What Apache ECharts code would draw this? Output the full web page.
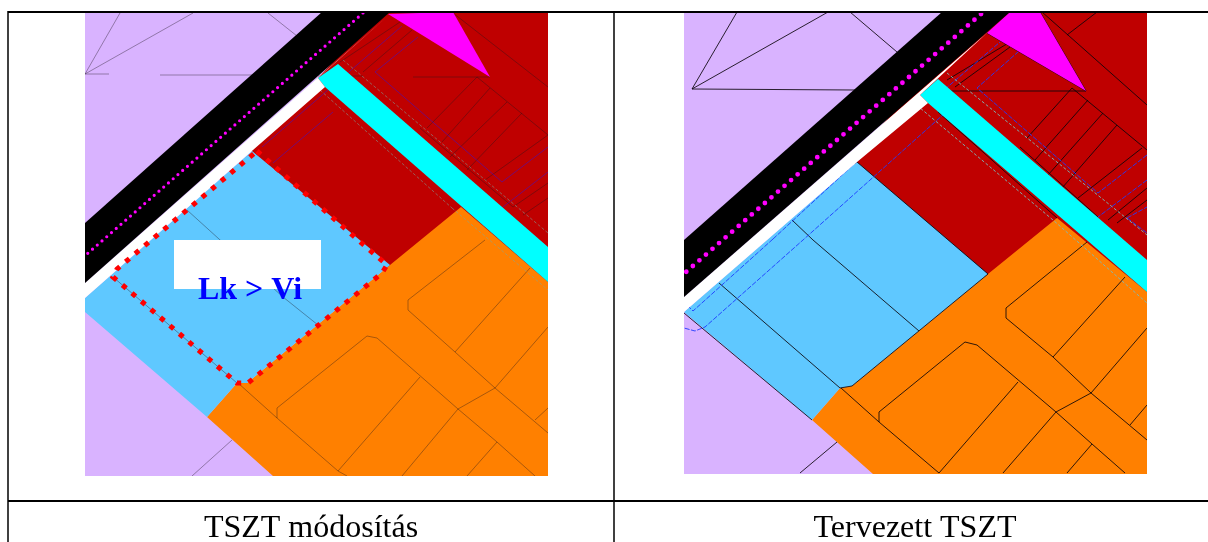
<!DOCTYPE html>
<html><head><meta charset="utf-8">
<style>html,body{margin:0;padding:0;background:#fff}#c{width:1208px;height:542px}</style>
<script src="https://cdn.jsdelivr.net/npm/echarts@6/dist/echarts.min.js"></script>
</head><body><div id="c"></div>
<script>
// ---- captions and labels
const captionLeft = "TSZT módosítás";
const captionRight = "Tervezett TSZT";
const mapLabel = "Lk > Vi";
// ---- table frame
const tableRows = [[[8,12],[1208,12]],[[8,501],[1208,501]]];
const tableCols = [[[8,11],[8,542]],[[614,11],[614,542]]];
const labelBox = [[[174,240],[321,240],[321,289],[174,289]]];

// ---- left map regions
const L_lilac = [[[85,12],[548,12],[548,476],[85,476]]];
const L_red = [[[380,12],[548,12],[548,300],[390,270],[250,150]]];
const L_orange = [[[461,207],[548,282],[548,476],[273,476],[207,417],[237,383],[247,383],[390,265]]];
const L_blue = [[[85,298],[252,151],[390,265],[247,383],[237,383],[207,417],[85,312]]];
const L_cyan = [[[338,64],[548,247],[548,282],[325,87],[318,78]]];
const L_magenta = [[[388,14],[453,12],[490,77]]];
const L_white = [[[389,15],[85,283],[85,298],[253,150],[325,87],[318,78]]];
const L_black = [[[322,12],[390,12],[85,283],[85,223]]];
const L_dots = [[[363,13],[87,254]]];
const L_outline = [[[257,151],[358,240],[387,265],[382,273],[248,383],[237,383],[113,277],[117,269],[257,151]]];
const L_thin = [
 [[85,74],[120,13]],[[85,74],[193,13]],[[268,13],[297,36]],[[85,74],[109,74]],[[160,75],[252,75]],
 [[232,440],[192,476]],[[187,210],[283,297],[318,325]],[[113,277],[237,383]],
 [[318,76],[363,76]],[[413,77],[490,77]],
 [[485,240],[408,300],[408,310],[455,352],[495,388],[548,433]],
 [[530,268],[455,352]],[[548,327],[495,388]],[[495,388],[458,409]],
 [[238,383],[277,418],[338,471],[347,476]],
 [[277,418],[277,408],[367,336],[377,338],[458,409],[497,442],[535,476]],
 [[420,377],[338,471]],[[458,409],[402,476]],[[497,442],[467,476]],[[548,408],[535,420]],
 [[453,13],[548,87]],[[477,77],[548,135]],[[363,72],[412,30]],[[340,62],[400,22]],
 [[477,77],[427,128]],[[490,88],[442,142]],[[507,102],[450,157]],[[522,113],[467,170]],[[548,135],[485,180]],
 [[420,128],[513,207]],[[513,207],[548,183]],[[523,215],[548,198]]
];
const L_blueThin = [
 [[262,147],[402,26]],[[273,163],[333,112]],[[375,72],[418,37]],[[375,72],[502,182],[548,147]],[[503,207],[548,172]]
];
const L_teal = [[[343,60],[548,233]],[[320,90],[452,208]],[[452,208],[548,290]]];

// ---- right map regions
const R_lilac = [[[684,12],[1147,12],[1147,474],[684,474]]];
const R_red = [[[985,12],[1147,12],[1147,300],[988,280],[850,160]]];
const R_orange = [[[1057,218],[1147,292],[1147,474],[873,474],[812,420],[840,388],[852,386],[988,274]]];
const R_blue = [[[684,312],[857,162],[988,274],[852,386],[840,388],[812,420]]];
const R_cyan = [[[938,79],[1147,260],[1147,292],[928,103],[920,95]]];
const R_magenta = [[[987,33],[1010,12],[1040,12],[1086,91]]];
const R_white = [[[988,32],[684,297],[684,312],[857,162],[928,103],[920,95]]];
const R_black = [[[942,12],[1010,12],[684,297],[684,240]]];
const R_dots = [[[981,14],[686,272]]];
const R_thick = [
 [[692,89],[737,12]],[[692,89],[828,12]],[[850,12],[897,52]],[[692,89],[855,90]],[[922,91],[1086,91]],
 [[837,442],[800,473]],[[792,220],[813,240],[919,331]],[[719,283],[840,388]],[[684,313],[812,420]],
 [[1087,242],[1006,308],[1006,318],[1053,357],[1091,393],[1147,440]],
 [[1125,277],[1053,357]],[[1147,328],[1091,393]],[[1091,393],[1056,412]],
 [[841,388],[879,422],[939,473]],
 [[879,422],[879,412],[965,342],[977,345],[1056,412],[1092,444],[1125,473]],
 [[1018,382],[939,473]],[[1056,412],[1003,473]],[[1092,444],[1067,473]],[[1147,405],[1130,425]],
 [[840,388],[852,386],[988,274]],[[857,162],[988,274]],
 [[1042,12],[1147,105]],[[1067,35],[1097,12]],[[1072,88],[1147,150]],
 [[1072,88],[1027,138]],[[1088,100],[1035,160]],[[1103,113],[1048,175]],[[1117,125],[1062,188]],[[1142,148],[1078,198]],
 [[1147,188],[1108,220]],[[1147,200],[1117,223]],
 [[1010,47],[955,87]],[[947,80],[1010,42]],[[1020,147],[1098,217]],[[987,33],[1086,91]],[[1040,12],[1086,91]],
 [[1057,218],[938,112]]
];
const R_blueThin = [
 [[773,239],[921,102]],[[773,239],[693,311],[685,303]],[[945,113],[803,240],[705,327],[695,331],[684,328]],
 [[930,102],[1000,42]],[[1147,155],[1098,193],[977,88],[1018,52]],[[1147,180],[1098,217]],
 [[1127,218],[1147,207]],[[1127,218],[1147,233]],[[960,120],[1147,282]]
];
const R_teal = [[[947,73],[1147,235]],[[913,102],[1053,220],[1147,303]]];

// ---- colours
const colours = {lilac:'#D9B3FF', red:'#BF0000', orange:'#FF8000', blue:'#5FC8FF', cyan:'#00FFFF', magenta:'#FF00FF'};

function polys(gi, rings, fill, z){
  return {type:'custom', xAxisIndex:gi, yAxisIndex:gi, clip:true, z, silent:true,
    data:rings.map((r,i)=>[i]),
    renderItem:(p,api)=>({type:'polygon', shape:{points:rings[p.dataIndex].map(c=>api.coord(c))}, style:{fill, stroke:null}})};
}
function paths(gi, list, style, z){
  return {type:'custom', xAxisIndex:gi, yAxisIndex:gi, clip:true, z, silent:true,
    data:list.map((r,i)=>[i]),
    renderItem:(p,api)=>({type:'polyline', shape:{points:list[p.dataIndex].map(c=>api.coord(c))}, style:Object.assign({fill:null},style)})};
}
function label(gi, text, x, y, size, color, weight, z){
  return {type:'custom', xAxisIndex:gi, yAxisIndex:gi, clip:false, z, silent:true, data:[[x,y]],
    renderItem:(p,api)=>{const c=api.coord([x,y]);return {type:'text', x:c[0], y:c[1],
      style:{text, fill:color, font:`${weight} ${size}px "Liberation Serif"`, textAlign:'center', textVerticalAlign:'bottom'}};}};
}
const black1 = {stroke:'rgba(30,20,30,0.55)', lineWidth:0.7};
const black2 = {stroke:'rgba(10,5,10,0.85)', lineWidth:1};

const series = [
 polys(0,L_lilac,colours.lilac,1),polys(0,L_red,colours.red,2),polys(0,L_orange,colours.orange,3),polys(0,L_blue,colours.blue,3),
 paths(0,L_thin,black1,4),paths(0,L_blueThin,{stroke:'rgba(40,20,230,0.7)',lineWidth:0.7},4),
 paths(0,L_teal,{stroke:'rgba(120,170,160,0.7)',lineWidth:0.8,lineDash:[3,2]},4),
 polys(0,L_cyan,colours.cyan,5),polys(0,L_magenta,colours.magenta,5),polys(0,L_white,'#FFFFFF',5),polys(0,L_black,'#000000',6),
 paths(0,L_dots,{stroke:'#FF00FF',lineWidth:3.2,lineCap:'round',lineDash:[0,6.3]},7),
 polys(0,labelBox,'#FFFFFF',7),
 paths(0,L_outline,{stroke:'#FF0000',lineWidth:5,lineDash:[5,7.5]},8),
 label(0,mapLabel,250,307,32,'#0000FF','bold',9),

 polys(1,R_lilac,colours.lilac,1),polys(1,R_red,colours.red,2),polys(1,R_orange,colours.orange,3),polys(1,R_blue,colours.blue,3),
 paths(1,R_thick,black2,4),paths(1,R_blueThin,{stroke:'rgba(30,60,255,0.9)',lineWidth:1,lineDash:[5,1.5]},4),
 paths(1,R_teal,{stroke:'rgba(120,190,190,0.9)',lineWidth:1,lineDash:[3,2]},4),
 polys(1,R_cyan,colours.cyan,5),polys(1,R_magenta,colours.magenta,5),polys(1,R_white,'#FFFFFF',5),polys(1,R_black,'#000000',6),
 paths(1,R_dots,{stroke:'#FF00FF',lineWidth:4.8,lineCap:'round',lineDash:[0,8.7]},7),

 paths(2,tableRows,{stroke:'#000',lineWidth:2},20),
 paths(2,tableCols,{stroke:'#000',lineWidth:1.5},20),
 label(2,captionLeft,311,545,32,'#000','normal',21),
 label(2,captionRight,915,545,32,'#000','normal',21)
];
function ax(min,max,inv){return {type:'value',min,max,inverse:!!inv,show:false,scale:true};}
const chart = echarts.init(document.getElementById('c'),null,{renderer:'canvas'});
chart.setOption({
 animation:false, backgroundColor:'#fff',
 grid:[{left:85,top:12,width:463,height:464},{left:684,top:12,width:463,height:462},{left:0,top:0,width:1208,height:542}],
 xAxis:[ax(85,548),ax(684,1147),ax(0,1208)].map((a,i)=>Object.assign(a,{gridIndex:i})),
 yAxis:[ax(12,476,1),ax(12,474,1),ax(0,542,1)].map((a,i)=>Object.assign(a,{gridIndex:i})),
 series
});
</script></body></html>
